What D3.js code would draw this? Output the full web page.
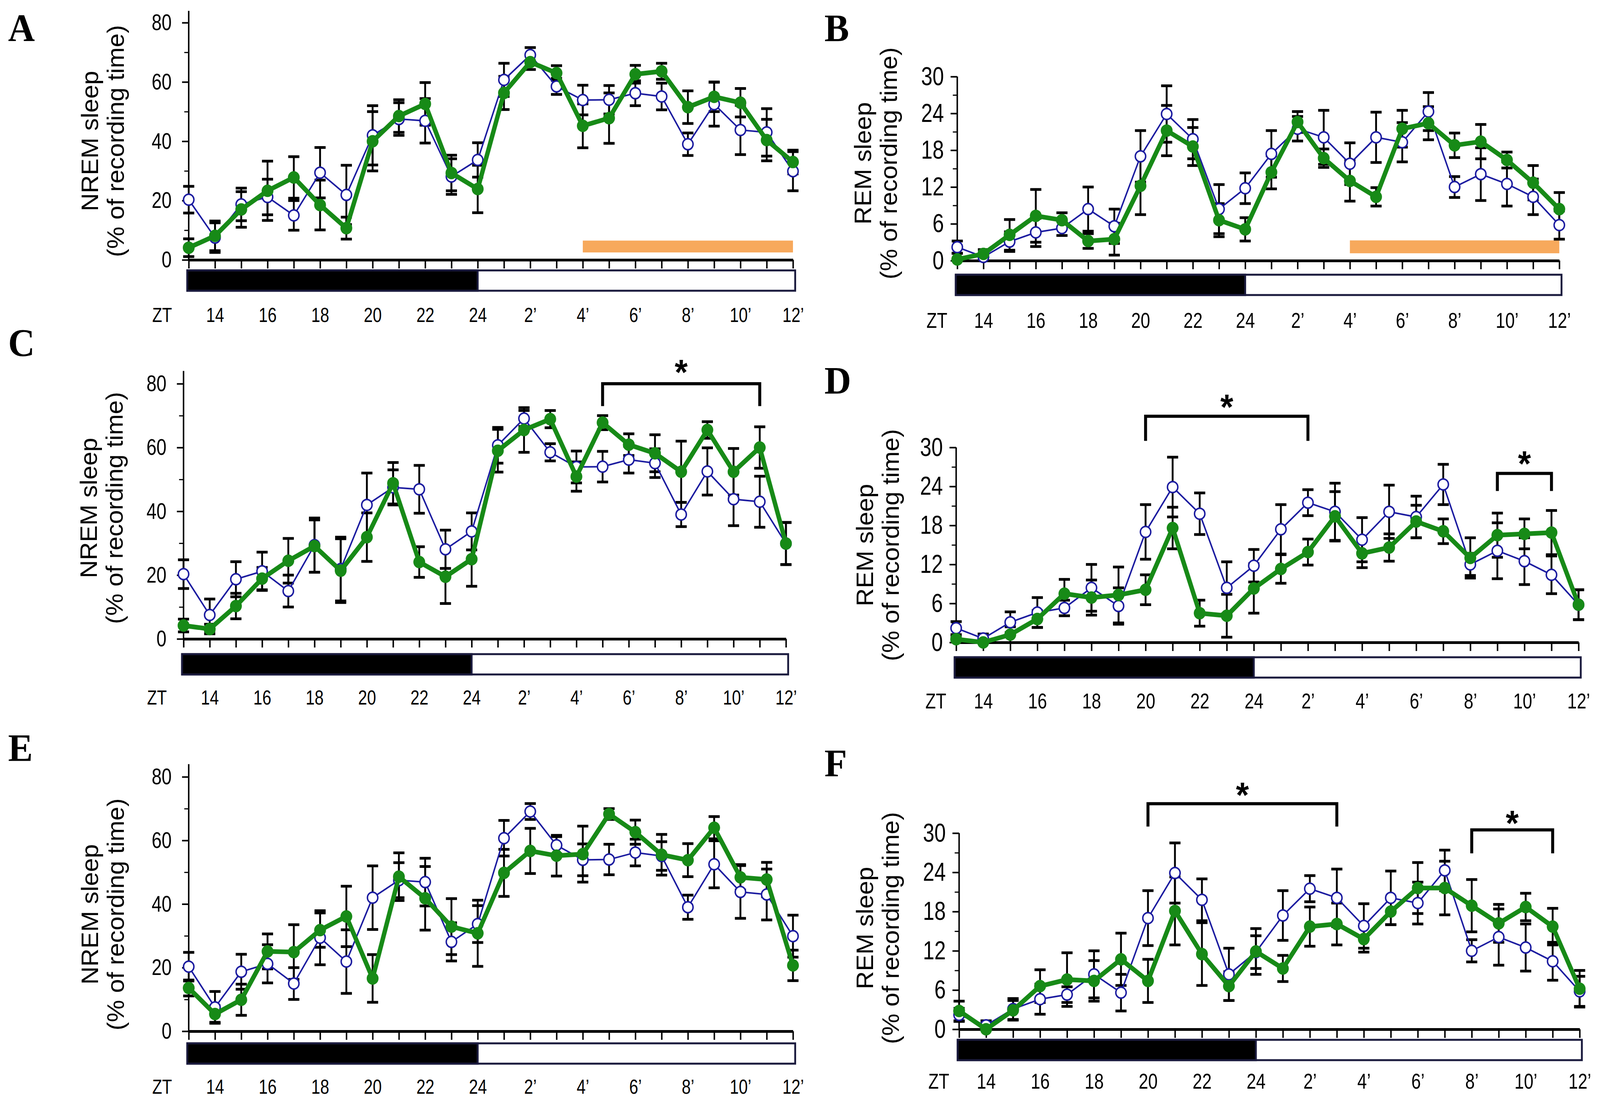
<!DOCTYPE html>
<html>
<head>
<meta charset="utf-8">
<script src="https://cdn.jsdelivr.net/npm/d3@7"></script>
<style>
  html, body { margin: 0; padding: 0; width: 100%; height: 100%; overflow: hidden; background: #fff; }
  svg { display: block; width: 100vw; height: 100vh; }
  .tick-label { font-family: 'Liberation Sans', Arial, sans-serif; fill: #000; }
  .axis-title { font-family: 'Liberation Sans', Arial, sans-serif; fill: #000; }
  .panel-letter { font-family: 'Liberation Serif', 'Times New Roman', serif; font-weight: bold; fill: #000; }
</style>
</head>
<body>
<svg id="chart" viewBox="0 0 4324 2815" preserveAspectRatio="none"></svg>
<script>
// x axis: ZT13 .. ZT24, then ZT1' .. ZT12' (one point per hour)
const hourLabels = ['', '14', '', '16', '', '18', '', '20', '', '22', '', '24',
  '', '2\u2019', '', '4\u2019', '', '6\u2019', '', '8\u2019', '', '10\u2019', '', '12\u2019'];

const nremTicks = [0, 20, 40, 60, 80];
const nremMinor = [10, 30, 50, 70];
const remTicks = [0, 6, 12, 18, 24, 30];
const remMinor = [3, 9, 15, 21, 27];

// control (open blue circles), same in every panel of a kind
const nremControl = [20.3, 7.5, 18.7, 21.2, 15, 29.4, 21.9, 42, 47.5, 46.9, 28.1, 33.7,
  60.7, 69.1, 58.5, 53.9, 54, 56.2, 55.1, 39, 52.5, 43.8, 43, 29.9];
const nremControlErr = [4.5, 5, 5.5, 6, 5, 8.5, 10, 10, 5.5, 7.5, 6, 5.8,
  5.6, 2.5, 2.7, 5, 4.8, 4.2, 4.5, 3.8, 7.4, 8.3, 8, 6.6];
const remControl = [2.2, 0.6, 3.1, 4.6, 5.3, 8.4, 5.6, 17, 23.9, 19.8, 8.4, 11.8,
  17.4, 21.5, 20.1, 15.8, 20.1, 19.3, 24.3, 12, 14.1, 12.5, 10.4, 5.8];
const remControlErr = [1, 0.7, 1.6, 2.3, 1.2, 3.6, 2.8, 4.2, 4.6, 3.2, 4, 2.5,
  3.8, 2, 4.4, 3.4, 4.1, 3.2, 3.1, 1.7, 4.3, 3.6, 2.9, 2.3];

// treated groups (filled green)
const nremA = [4.1, 8.1, 17, 23.3, 27.8, 18.5, 10.7, 40, 48.5, 52.6, 29.3, 23.9,
  56.3, 66.7, 63, 45.2, 47.8, 62.6, 63.6, 51.5, 55, 53, 40.4, 33];
const nremAErr = [3, 5, 6, 10, 7, 8.4, 3.7, 10, 5.5, 7.2, 6, 8,
  5.6, 2.5, 2.5, 7.4, 8.5, 3, 2.7, 5.5, 5, 4.8, 7, 4];
const remB = [0.2, 1.1, 4.2, 7.3, 6.6, 3.2, 3.5, 12.2, 21.2, 18.6, 6.6, 5.1,
  14.4, 22.6, 16.7, 13, 10.4, 21.5, 22.4, 18.8, 19.4, 16.4, 12.7, 8.4];
const remBErr = [1, 0.7, 2.5, 4.3, 1.2, 1.2, 2.6, 4.7, 4.1, 3.1, 2.7, 1.9,
  2.7, 1.7, 1.5, 3.3, 1.5, 3, 2.7, 2, 2.8, 1.3, 2.8, 2.7];
const nremC = [4.2, 3.1, 10.3, 18.9, 24.5, 29.1, 21.4, 31.9, 48.8, 24.1, 19.5, 25,
  59, 65.5, 68.9, 50.9, 67.8, 60.9, 58.2, 52.4, 65.5, 52.4, 60, 29.9];
const nremCErr = [2, 1.5, 4, 3.5, 7, 8.2, 10, 7.6, 6.5, 4.8, 8.4, 8.5,
  6.7, 7, 2.7, 4.6, 2.2, 3.4, 5.8, 9.6, 2.6, 7.3, 6.5, 6.6];
const remD = [0.5, 0, 1.2, 3.6, 7.5, 6.9, 7.3, 8.1, 17.6, 4.5, 4.1, 8.3,
  11.3, 13.9, 19.4, 13.7, 14.6, 18.6, 17.1, 13, 16.5, 16.7, 16.9, 5.8];
const remDErr = [0.5, 0.5, 1.2, 1.3, 2.2, 2.7, 4.3, 2.3, 3.2, 2, 3.3, 3.8,
  2.2, 2, 3.8, 2.2, 2.1, 2.5, 1.9, 3.1, 3.4, 2.3, 3.4, 2.3];
const nremE = [13.6, 5.4, 9.9, 25.1, 24.9, 31.8, 36.1, 16.6, 48.6, 41.8, 32.9, 30.8,
  49.8, 56.7, 55.2, 55.7, 68.3, 62.6, 55.5, 53.8, 64, 48.4, 47.7, 20.7];
const nremEErr = [2.5, 2.6, 4.9, 5.5, 8.6, 5.4, 9.5, 7.5, 7.5, 10, 8.8, 10.4,
  7.4, 7.1, 6.4, 8.8, 1.7, 3.8, 6.4, 5.2, 3.5, 4, 5.4, 4.8];
const remF = [2.8, 0, 2.9, 6.6, 7.6, 7.4, 10.7, 7.4, 18.1, 11.5, 6.6, 11.9,
  9.3, 15.7, 16.1, 13.8, 18, 21.6, 21.6, 18.9, 16.2, 18.7, 15.7, 6.2];
const remFErr = [1.5, 0.5, 1.5, 2.5, 4.1, 3.1, 4, 3.3, 5.2, 4.8, 2.2, 3.5,
  2, 3, 3.2, 2, 2, 3.9, 4.1, 4, 2.9, 2.1, 2.8, 2.8];

// treatment period (orange bar) and significance brackets, in hour index / data units
const treatA = { from: 15, to: 23, lo: 2.5, hi: 6.5 };
const treatB = { from: 15, to: 23, lo: 1.2, hi: 3.3 };
const bracketsC = [{ from: 16, to: 22, top: 80, leg: 73, star: 86 }];
const bracketsD = [{ from: 7, to: 13, top: 34.8, leg: 31, star: 37.4 },
  { from: 20, to: 22, top: 26, leg: 23.3, star: 28.7 }];
const bracketsF = [{ from: 7, to: 14, top: 34.5, leg: 31, star: 37 },
  { from: 19, to: 22, top: 30.5, leg: 26.9, star: 32.7 }];

const blue = '#1c1ca0';
const green = '#178a17';
const orange = '#f7a95c';

// panel geometry (pixels)
const panels = [
  { letter: 'A', lx: 22, ly: 105, kind: 'nrem', vals: nremA, errs: nremAErr, treat: treatA,
    axisX: 510, lastX: 2143, y0: 665, yTop: 58, barTop: 692, tickY: 805, labX: 243, labY: 361 },
  { letter: 'B', lx: 2228, ly: 105, kind: 'rem', vals: remB, errs: remBErr, treat: treatB,
    axisX: 2587, lastX: 4214, y0: 667, yTop: 196, barTop: 703, tickY: 819, labX: 2332, labY: 418 },
  { letter: 'C', lx: 22, ly: 910, kind: 'nrem', vals: nremC, errs: nremCErr, brackets: bracketsC,
    axisX: 496, lastX: 2124, y0: 1635, yTop: 982, barTop: 1674, tickY: 1784, labX: 240, labY: 1300 },
  { letter: 'D', lx: 2228, ly: 1007, kind: 'rem', vals: remD, errs: remDErr, brackets: bracketsD,
    axisX: 2584, lastX: 4266, y0: 1644, yTop: 1145, barTop: 1682, tickY: 1793, labX: 2337, labY: 1395 },
  { letter: 'E', lx: 22, ly: 1947, kind: 'nrem', vals: nremE, errs: nremEErr,
    axisX: 510, lastX: 2143, y0: 2639, yTop: 1988, barTop: 2670, tickY: 2780, labX: 243, labY: 2340 },
  { letter: 'F', lx: 2228, ly: 1986, kind: 'rem', vals: remF, errs: remFErr, brackets: bracketsF,
    axisX: 2592, lastX: 4269, y0: 2634, yTop: 2132, barTop: 2661, tickY: 2766, labX: 2337, labY: 2375 }
];

// condensed look of the tick digits
const squeeze = 0.84;

const svg = d3.select('#chart');
svg.append('rect').attr('width', 4324).attr('height', 2815).attr('fill', '#fff');

panels.forEach(drawPanel);

function drawPanel(p) {
  const nrem = p.kind === 'nrem';
  const yMax = nrem ? 80 : 30;
  const ctrl = nrem ? nremControl : remControl;
  const ctrlErr = nrem ? nremControlErr : remControlErr;
  const yFont = nrem ? 58 : 66;
  const xFont = nrem ? 52 : 55;

  const x = d3.scaleLinear().domain([0, 23]).range([p.axisX, p.lastX]);
  const y = d3.scaleLinear().domain([0, yMax]).range([p.y0, p.yTop]);
  const g = svg.append('g');

  // y axis line (NREM axis runs a bit above the top tick)
  g.append('line')
    .attr('x1', p.axisX).attr('x2', p.axisX)
    .attr('y1', p.y0).attr('y2', nrem ? y(84) : y(30))
    .attr('stroke', '#000').attr('stroke-width', 4);

  const yPad = nrem ? 28 : 18;
  g.append('g')
    .attr('transform', `translate(${p.axisX},0)`)
    .call(d3.axisLeft(y).tickValues(nrem ? nremTicks : remTicks).tickSize(18).tickSizeOuter(0)
      .tickPadding(yPad))
    .call(a => a.select('.domain').remove())
    .call(a => a.selectAll('line').attr('stroke-width', 4))
    .call(a => a.selectAll('text')
      .attr('class', 'tick-label')
      .attr('x', -(18 + yPad) / squeeze)
      .attr('transform', `scale(${squeeze},1)`)
      .style('font-size', yFont + 'px'));

  g.append('g')
    .attr('transform', `translate(${p.axisX},0)`)
    .call(d3.axisLeft(y).tickValues(nrem ? nremMinor : remMinor).tickSize(12).tickFormat(''))
    .call(a => a.select('.domain').remove())
    .call(a => a.selectAll('line').attr('stroke-width', 3));

  // x axis with hour ticks, labels sit under the light/dark bar
  const tickSize = 22;
  const pad = p.tickY - p.y0 - tickSize - 0.35 * xFont;
  g.append('g')
    .attr('transform', `translate(0,${p.y0})`)
    .call(d3.axisBottom(x).tickValues(d3.range(24)).tickSize(tickSize).tickSizeOuter(0)
      .tickPadding(pad).tickFormat(i => hourLabels[i]))
    .call(a => a.select('.domain').attr('stroke-width', 7))
    .call(a => a.selectAll('line').attr('stroke-width', 4))
    .call(a => a.selectAll('text')
      .attr('class', 'tick-label')
      .attr('transform', `scale(${squeeze},1)`)
      .style('font-size', xFont + 'px'));

  g.append('text')
    .attr('class', 'tick-label')
    .attr('transform', `translate(${p.axisX - (nrem ? 72 : 55)},${p.tickY + 0.36 * xFont}) scale(${squeeze},1)`)
    .attr('text-anchor', 'middle')
    .style('font-size', xFont + 'px')
    .text('ZT');

  // dark / light bar
  const barH = 52;
  const barL = x(0) - 4;
  const barR = x(23) + 6;
  g.append('rect')
    .attr('x', barL).attr('y', p.barTop).attr('width', barR - barL).attr('height', barH)
    .attr('fill', '#fff').attr('stroke', '#1b1b3e').attr('stroke-width', 5);
  g.append('rect')
    .attr('x', barL).attr('y', p.barTop).attr('width', x(11) - barL).attr('height', barH)
    .attr('fill', '#000').attr('stroke', '#1b1b3e').attr('stroke-width', 5);

  // treatment period
  if (p.treat) {
    g.append('rect')
      .attr('x', x(p.treat.from)).attr('y', y(p.treat.hi))
      .attr('width', x(p.treat.to) - x(p.treat.from))
      .attr('height', y(p.treat.lo) - y(p.treat.hi))
      .attr('fill', orange);
  }

  // error bars (black, both groups)
  const capW = 30;
  function errorBars(vals, errs) {
    const eb = g.append('g').attr('stroke', '#000');
    vals.forEach((v, i) => {
      const lo = y(Math.max(0, v - errs[i]));
      const hi = y(v + errs[i]);
      eb.append('line').attr('x1', x(i)).attr('x2', x(i)).attr('y1', lo).attr('y2', hi)
        .attr('stroke-width', 5);
      eb.append('line').attr('x1', x(i) - capW / 2).attr('x2', x(i) + capW / 2)
        .attr('y1', hi).attr('y2', hi).attr('stroke-width', 7);
      if (v - errs[i] > 0.3) {
        eb.append('line').attr('x1', x(i) - capW / 2).attr('x2', x(i) + capW / 2)
          .attr('y1', lo).attr('y2', lo).attr('stroke-width', 7);
      }
    });
  }
  errorBars(ctrl, ctrlErr);
  errorBars(p.vals, p.errs);

  const line = d3.line().x((d, i) => x(i)).y(d => y(d));

  // control: thin blue line with open circles
  g.append('path').datum(ctrl)
    .attr('d', line).attr('fill', 'none')
    .attr('stroke', blue).attr('stroke-width', 4);
  g.selectAll('.ctrl-dot').data(ctrl).join('circle')
    .attr('class', 'ctrl-dot')
    .attr('cx', (d, i) => x(i)).attr('cy', d => y(d)).attr('r', 14)
    .attr('fill', '#fff').attr('stroke', blue).attr('stroke-width', 4);

  // treated: thick green line with filled dots
  g.append('path').datum(p.vals)
    .attr('d', line).attr('fill', 'none')
    .attr('stroke', green).attr('stroke-width', 12).attr('stroke-linejoin', 'round');
  g.selectAll('.trt-dot').data(p.vals).join('circle')
    .attr('class', 'trt-dot')
    .attr('cx', (d, i) => x(i)).attr('cy', d => y(d)).attr('r', 16)
    .attr('fill', green);

  // significance brackets
  (p.brackets || []).forEach(b => {
    g.append('path')
      .attr('d', `M${x(b.from)},${y(b.leg)}V${y(b.top)}H${x(b.to)}V${y(b.leg)}`)
      .attr('fill', 'none').attr('stroke', '#000').attr('stroke-width', 8);
    g.append('text')
      .attr('class', 'axis-title')
      .attr('x', (x(b.from) + x(b.to)) / 2)
      .attr('y', y(b.star) + 0.57 * 90)
      .attr('text-anchor', 'middle')
      .style('font-size', '90px').style('font-weight', 'bold')
      .text('*');
  });

  // y axis title, two lines
  const title = g.append('text')
    .attr('class', 'axis-title')
    .attr('transform', `translate(${p.labX},${p.labY}) rotate(-90)`)
    .attr('text-anchor', 'middle')
    .style('font-size', '64px');
  title.append('tspan').attr('x', 0).attr('y', 22).text(nrem ? 'NREM sleep' : 'REM sleep');
  title.append('tspan').attr('x', 0).attr('y', 92).text('(% of recording time)');

  // panel letter
  g.append('text')
    .attr('class', 'panel-letter')
    .attr('x', p.lx).attr('y', p.ly)
    .style('font-size', '100px')
    .text(p.letter);
}
</script>
</body>
</html>
